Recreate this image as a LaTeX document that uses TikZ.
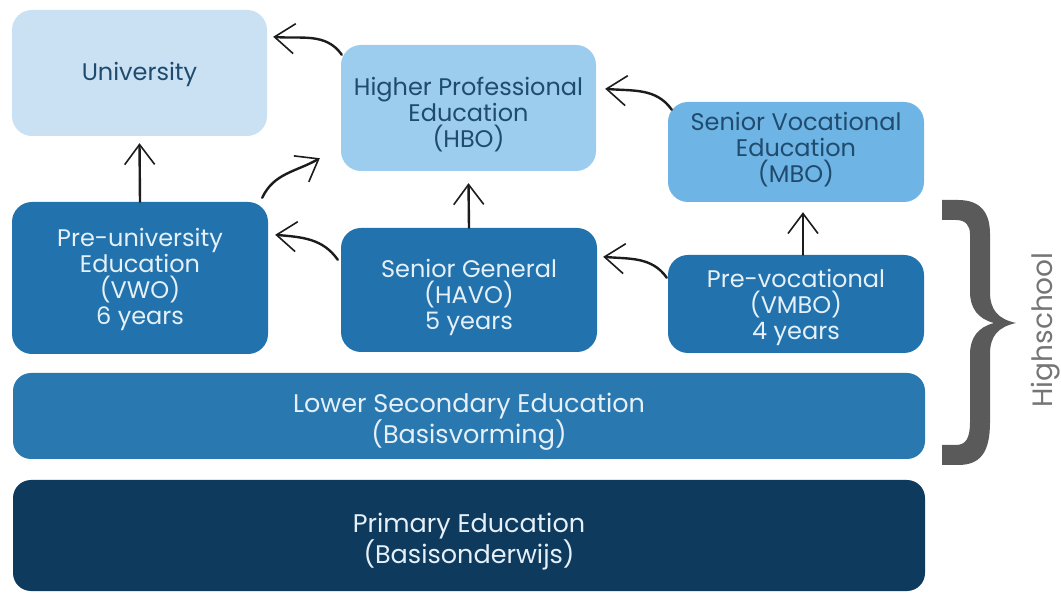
\documentclass[tikz,border=0pt]{standalone}
\usepackage{fontspec}
\setmainfont{Poppins}
\usetikzlibrary{arrows.meta,calc}

\definecolor{uniC}{HTML}{C9E1F2}
\definecolor{hboC}{HTML}{9CCDEE}
\definecolor{mboC}{HTML}{6EB4E4}
\definecolor{midC}{HTML}{2273AD}
\definecolor{lowC}{HTML}{2A78B0}
\definecolor{priC}{HTML}{0E3A5D}
\definecolor{darkT}{HTML}{1F4B6E}
\definecolor{lightT}{HTML}{E6F0F8}
\definecolor{braceC}{HTML}{5A5A5A}
\definecolor{labelC}{HTML}{757575}
\definecolor{arrowC}{HTML}{1C1C1C}

\tikzset{
  stage/.style={rounded corners=20pt, inner sep=0pt},
  widestage/.style={stage, rounded corners=18pt, minimum width=912},
  stagetext/.style={align=center, inner sep=0pt, font=\fontsize{24}{26}\selectfont},
  lighttext/.style={stagetext, text=darkT},
  darktext/.style={stagetext, text=lightT},
  widetext/.style={stagetext, text=lightT, font=\fontsize{25.5}{29}\selectfont},
  flow/.style={draw=arrowC, line width=2.4pt, line cap=round,
    -{Straight Barb[length=20pt, width=30pt, line width=1.6pt]}},
}

\begin{document}
\begin{tikzpicture}[x=1pt, y=-1pt]
\useasboundingbox (0,0) rectangle (1061,593);

% upper level: where the school types lead
\node[stage, fill=uniC, minimum width=255, minimum height=126,
  label={[lighttext, yshift=-1pt]center:University}] (uni) at (139.5,73) {};
\node[stage, fill=hboC, minimum width=255, minimum height=126,
  label={[lighttext, yshift=-7pt]center:{Higher Professional\\Education\\(HBO)}}] (hbo) at (468.5,108) {};
\node[stage, fill=mboC, minimum width=256, minimum height=100,
  label={[lighttext, yshift=2pt]center:{Senior Vocational\\Education\\(MBO)}}] (mbo) at (796,152) {};

% secondary school types
\node[stage, fill=midC, minimum width=256, minimum height=152,
  label={[darktext, yshift=-1pt]center:{Pre-university\\Education\\(VWO)\\6 years}}] (vwo) at (140,278) {};
\node[stage, fill=midC, minimum width=256, minimum height=124,
  label={[darktext, yshift=-7pt]center:{Senior General\\(HAVO)\\5 years}}] (havo) at (469,290) {};
\node[stage, fill=midC, minimum width=256, minimum height=98,
  label={[darktext, yshift=-3pt]center:{Pre-vocational\\(VMBO)\\4 years}}] (vmbo) at (796,304) {};

% common base
\node[widestage, fill=lowC, minimum height=86,
  label={[widetext, yshift=-6pt]center:{Lower Secondary Education\\(Basisvorming)}}] (lower) at (469,416) {};
\node[widestage, fill=priC, minimum height=111,
  label={[widetext, yshift=-6pt]center:{Primary Education\\(Basisonderwijs)}}] (primary) at (469,535.5) {};

% transitions
\draw[flow] (vwo.north) -- ($(uni.south)+(0,7)$);
\draw[flow] ($(vwo.north east)+(-6,-4)$) to[out=65, in=210] ($(hbo.south west)+(-21,-13)$);
\draw[flow] ($(hbo.north west)+(1,10)$) to[out=125, in=-5] ($(uni.north east)+(6,27)$);
\draw[flow] ($(mbo.north west)+(4,8)$) to[out=125, in=-5] ($(hbo.north east)+(9,44)$);
\draw[flow] (havo.north) -- ($(hbo.south)+(0,12)$);
\draw[flow] ($(havo.north west)+(-3,32)$) to[out=125, in=-5] ($(vwo.north east)+(7,33)$);
\draw[flow] ($(vmbo.north west)+(-1,23)$) to[out=125, in=-5] ($(havo.north east)+(6,29)$);
\draw[flow] ($(vmbo.north)+(7,0)$) -- ($(mbo.south)+(7,10)$);

% brace grouping the high school levels, drawn as a filled outline
\fill[braceC]
  (942,200) -- (958,200) .. controls (980,200) and (990,212) .. (990,234)
  -- (990,292) .. controls (990,310) and (998,319) .. (1016,323)
  .. controls (998,327) and (990,336) .. (990,354)
  -- (990,422) .. controls (990,453) and (980,465) .. (958,465) -- (942,465)
  -- (942,445) -- (956,445) .. controls (966,445) and (970,438) .. (970,422)
  -- (970,354) .. controls (970,338) and (978,327) .. (994,323)
  .. controls (978,319) and (970,308) .. (970,292)
  -- (970,234) .. controls (970,226) and (966,220) .. (956,220) -- (942,220) -- cycle;
\node[rotate=90, text=labelC, font=\fontsize{28}{28}\selectfont] (hs) at (1046,330) {Highschool};
\end{tikzpicture}
\end{document}
